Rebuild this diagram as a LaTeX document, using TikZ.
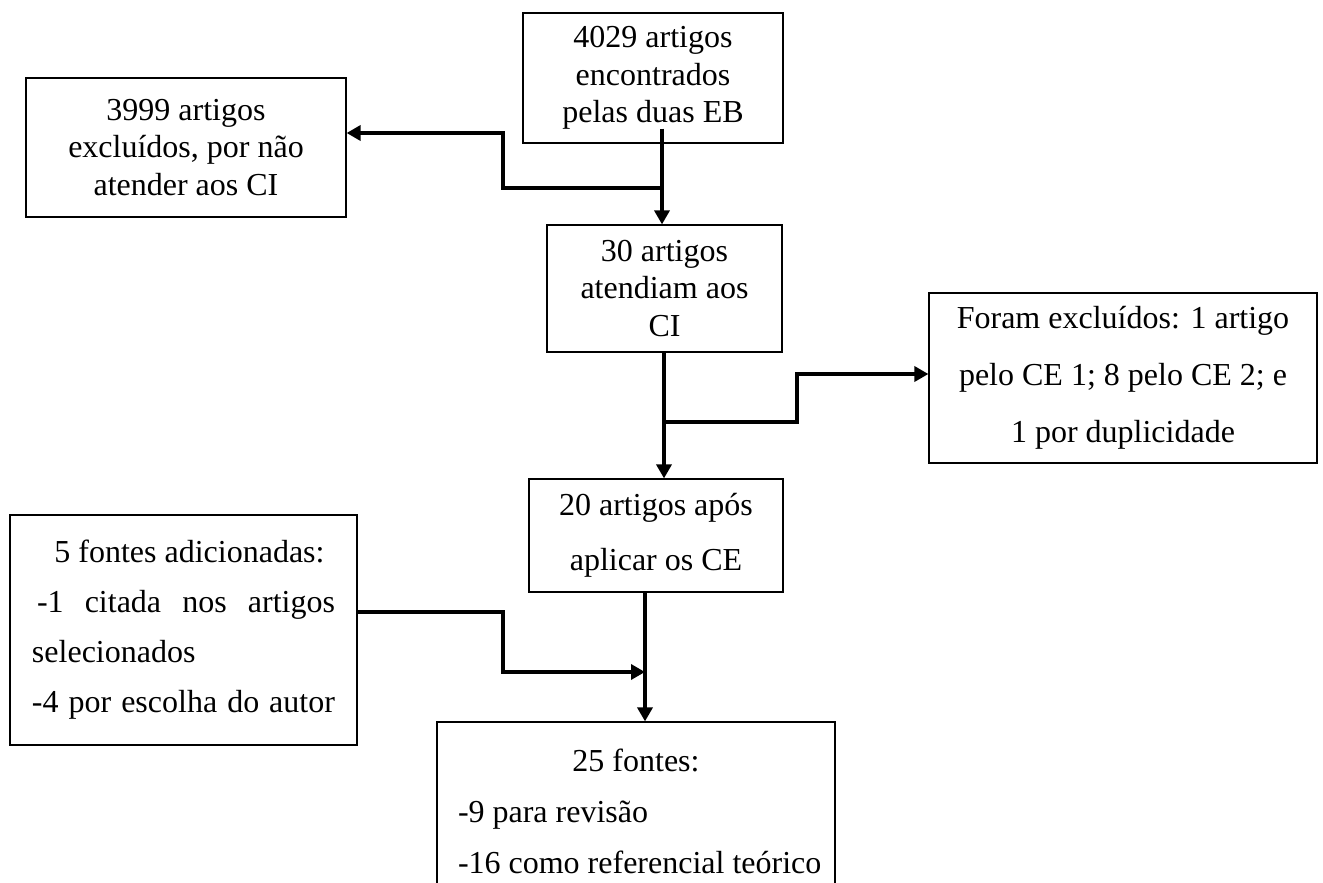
\documentclass[tikz,border=0pt]{standalone}
\usepackage{fontspec}
\setmainfont{Liberation Serif}
\usetikzlibrary{arrows.meta}
\begin{document}
\begin{tikzpicture}[x=0.5pt,y=-0.5pt,
  box/.style={draw, line width=0.6pt, inner sep=0pt, align=center,
              font=\fontsize{16}{18.75}\selectfont},
  flow/.style={line width=1.7pt, -{Triangle[length=7pt,width=7.5pt]}}]
\useasboundingbox (0,0) rectangle (1323,883);

% boxes of the selection flow
\node[box, minimum width=130pt, minimum height=65pt] (found) at (653,78)
  {4029 artigos\\encontrados\\pelas duas EB};
\node[box, minimum width=160pt, minimum height=69.5pt] (outCI) at (186,147.5)
  {3999 artigos\\excluídos, por não\\atender aos CI};
\node[box, minimum width=117.5pt, minimum height=63.5pt] (metCI) at (664.5,288.5)
  {30 artigos\\atendiam aos\\CI};
\node[box, minimum width=194pt, minimum height=85pt,
      font=\fontsize{16}{28.5}\selectfont] (outCE) at (1123,378)
  {Foram excluídos: 1 artigo\\pelo CE 1; 8 pelo CE 2; e\\1 por duplicidade};
\node[box, minimum width=127pt, minimum height=56.5pt,
      font=\fontsize{16}{27.5}\selectfont] (afterCE) at (656,535.5)
  {20 artigos após\\aplicar os CE};
\node[box, minimum width=173.5pt, minimum height=115pt,
      align=left, font=\fontsize{16}{25}\selectfont] (added) at (183.5,630)
  {\makebox[151.5pt][c]{\hspace{6pt}5 fontes adicionadas:}\\
   \makebox[151.5pt][s]{\hspace{2.5pt}-1 citada nos artigos}\\
   \makebox[151.5pt][l]{selecionados}\\
   \makebox[151.5pt][s]{-4 por escolha do autor}};
\node[box, minimum width=199pt, minimum height=89pt,
      align=left, font=\fontsize{16}{25.5}\selectfont] (total) at (636,811)
  {\makebox[197pt][c]{25 fontes:}\\
   \makebox[197pt][l]{\hspace{9.5pt}-9 para revisão}\\
   \makebox[197pt][l]{\hspace{9.5pt}-16 como referencial teórico}};

% junctions and bends of the connectors
\coordinate (t1) at ([yshift=7.5pt]found.south);
\coordinate (j1) at (662,188);
\coordinate (k1) at (503,133);
\coordinate (j2) at (664,422);
\coordinate (k2) at (797,374);
\coordinate (j3) at (645,672);
\coordinate (k3) at (503,612);

\draw[flow] (t1 -| j1) -- (metCI.north -| j1);
\draw[flow] (j1) -| (k1) -- (outCI.east |- k1);

\draw[flow] (metCI.south -| j2) -- (afterCE.north -| j2);
\draw[flow] (j2) -| (k2) -- (outCE.west |- k2);

\draw[flow] (afterCE.south -| j3) -- (total.north -| j3);
\draw[flow] (added.east |- k3) -| (j3 -| k3) -- (j3);
\end{tikzpicture}
\end{document}
